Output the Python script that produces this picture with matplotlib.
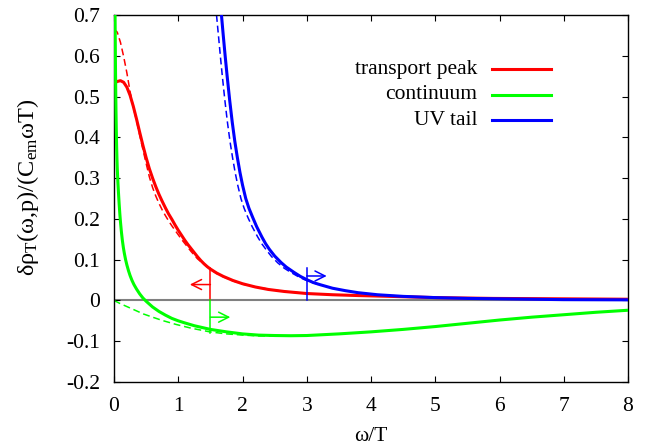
import numpy as np
import matplotlib
matplotlib.use("Agg")
import matplotlib.pyplot as plt

plt.rcParams['font.family'] = ['Liberation Serif', 'DejaVu Serif']
plt.rcParams['mathtext.fontset'] = 'custom'
plt.rcParams['mathtext.rm'] = 'Liberation Serif'
plt.rcParams['mathtext.it'] = 'Liberation Serif:italic'
plt.rcParams['axes.unicode_minus'] = False

# transport peak (solid = full, dashed = approximation)
tp_x = [0, 0.05, 0.1, 0.15, 0.2, 0.25, 0.3, 0.35, 0.4, 0.45, 0.5, 0.55, 0.6, 0.65, 0.7, 0.75,
        0.8, 0.85, 0.9, 0.95, 1.0, 1.05, 1.1, 1.15, 1.2, 1.25, 1.3, 1.35, 1.4, 1.45, 1.5, 1.6,
        1.7, 1.85, 2.0, 2.2, 2.4, 2.65, 3.0, 3.4, 3.8, 4.3, 5.0, 5.9, 7.0, 8.0]
tp_y = [0.533, 0.537, 0.539, 0.535, 0.523, 0.503, 0.476, 0.445, 0.412, 0.380, 0.350, 0.323,
        0.300, 0.279, 0.260, 0.243, 0.227, 0.212, 0.199, 0.185, 0.172, 0.160, 0.148, 0.137,
        0.127, 0.117, 0.107, 0.098, 0.090, 0.083, 0.077, 0.067, 0.059, 0.049, 0.041, 0.033,
        0.027, 0.022, 0.017, 0.014, 0.012, 0.010, 0.007, 0.005, 0.004, 0.003]
tp_dx = [0, 0.05, 0.1, 0.15, 0.2, 0.25, 0.3, 0.35, 0.4, 0.45, 0.5, 0.55, 0.6, 0.65, 0.7, 0.75,
         0.8, 0.85, 0.9, 0.95, 1.0, 1.05, 1.1, 1.15, 1.2, 1.25, 1.3, 1.4, 1.5, 1.6, 1.7, 1.85,
         2.0, 2.2, 2.6, 3.0]
tp_dy = [0.665, 0.658, 0.633, 0.598, 0.558, 0.512, 0.474, 0.441, 0.405, 0.370, 0.336, 0.303,
         0.277, 0.256, 0.238, 0.222, 0.208, 0.195, 0.183, 0.172, 0.161, 0.150, 0.140, 0.130,
         0.120, 0.111, 0.102, 0.089, 0.076, 0.066, 0.058, 0.048, 0.040, 0.033, 0.023, 0.017]

# continuum
co_x = [0.015, 0.018, 0.022, 0.026, 0.03, 0.035, 0.04, 0.045, 0.05, 0.06, 0.07, 0.08, 0.09,
        0.1, 0.115, 0.13, 0.145, 0.16, 0.18, 0.2, 0.225, 0.25, 0.28, 0.31, 0.35, 0.4, 0.45,
        0.5, 0.55, 0.6, 0.7, 0.8, 0.9, 1.0, 1.1, 1.25, 1.5, 1.75, 2.0, 2.25, 2.5, 2.75, 3.0,
        3.5, 4.0, 4.5, 5.0, 5.5, 6.0, 6.5, 7.0, 7.5, 8.0]
co_y = [0.72, 0.66, 0.58, 0.52, 0.47, 0.42, 0.38, 0.35, 0.325, 0.29, 0.262, 0.236, 0.213,
        0.193, 0.168, 0.147, 0.130, 0.116, 0.100, 0.087, 0.073, 0.061, 0.049, 0.039, 0.028,
        0.016, 0.006, -0.002, -0.009, -0.016, -0.027, -0.036, -0.044, -0.050, -0.055, -0.062,
        -0.071, -0.077, -0.082, -0.085, -0.086, -0.0865, -0.086, -0.082, -0.077, -0.071,
        -0.064, -0.056, -0.048, -0.041, -0.035, -0.029, -0.024]
co_dx = [0, 0.1, 0.2, 0.3, 0.455, 0.6, 0.75, 0.97, 1.2, 1.49, 1.75, 2.01, 2.25, 2.52, 2.8, 3.1]
co_dy = [0, -0.008, -0.015, -0.022, -0.033, -0.041, -0.049, -0.059, -0.068, -0.077, -0.082,
         -0.085, -0.087, -0.087, -0.087, -0.085]

# UV tail
uv_x = [1.672, 1.7, 1.73, 1.76, 1.8, 1.84, 1.88, 1.92, 1.96, 2.0, 2.05, 2.1, 2.16, 2.22, 2.3,
        2.36, 2.42, 2.5, 2.6, 2.68, 2.8, 2.9, 3.0, 3.1, 3.2, 3.4, 3.6, 3.8, 4.1, 4.5, 5.0,
        5.5, 6.0, 7.0, 8.0]
uv_y = [0.700, 0.650, 0.599, 0.551, 0.491, 0.437, 0.390, 0.350, 0.314, 0.283, 0.250, 0.226,
        0.203, 0.181, 0.156, 0.139, 0.125, 0.109, 0.093, 0.082, 0.069, 0.059, 0.051, 0.044,
        0.039, 0.030, 0.024, 0.019, 0.014, 0.010, 0.007, 0.005, 0.004, 0.002, 0.0015]
uv_dx = [1.595, 1.625, 1.655, 1.685, 1.725, 1.765, 1.805, 1.845, 1.885, 1.925, 1.975, 2.025,
         2.085, 2.15, 2.235, 2.3, 2.37, 2.45, 2.55, 2.65, 2.75, 2.85, 2.95, 3.05, 3.2]
uv_dy = [0.700, 0.650, 0.599, 0.551, 0.491, 0.437, 0.390, 0.350, 0.314, 0.283, 0.250, 0.226,
         0.203, 0.181, 0.156, 0.139, 0.124, 0.108, 0.092, 0.079, 0.069, 0.060, 0.052, 0.046,
         0.038]

labels = ["transport peak", "continuum", "UV tail"]
colors = ["#ff0000", "#00ff00", "#0000ff"]

# arrows: x position, end of vertical bar, arrow height, arrow tip x
arrow_x = [1.5, 1.5, 3.0]
arrow_bar = [0.079, -0.079, 0.079]
arrow_y = [0.039, -0.041, 0.060]
arrow_tip = [1.18, 1.81, 3.31]

xticks = [0, 1, 2, 3, 4, 5, 6, 7, 8]
yticks = [-0.2, -0.1, 0, 0.1, 0.2, 0.3, 0.4, 0.5, 0.6, 0.7]
ytick_labels = ["-0.2", "-0.1", "0", "0.1", "0.2", "0.3", "0.4", "0.5", "0.6", "0.7"]

fig = plt.figure(figsize=(6.49, 4.47), dpi=100)
ax = fig.add_axes([0.1757, 0.1454, 0.7920, 0.8210])

ax.axhline(0, color="#808080", lw=1.5, zorder=1)

curves = [(tp_x, tp_y, tp_dx, tp_dy), (co_x, co_y, co_dx, co_dy), (uv_x, uv_y, uv_dx, uv_dy)]
for (sx, sy, dx, dy), c in zip(curves, colors):
    ax.plot(dx, dy, color=c, lw=1.1, dashes=(4.5, 2.5), zorder=2)
    ax.plot(sx, sy, color=c, lw=2.2, zorder=3, solid_capstyle="butt")

for xa, yb, ya, xt, c in zip(arrow_x, arrow_bar, arrow_y, arrow_tip, colors):
    ax.plot([xa, xa], [0, yb], color=c, lw=1.1, zorder=4)
    ax.annotate("", xy=(xt, ya), xytext=(xa, ya),
                arrowprops=dict(arrowstyle="->,head_length=0.6,head_width=0.3",
                                color=c, lw=1.1, shrinkA=0, shrinkB=0, mutation_scale=12),
                zorder=4)

# legend drawn by hand (text right-aligned, sample line on the right)
for i, (lab, c) in enumerate(zip(labels, colors)):
    yy = 0.852 - i * 0.0695
    ax.text(0.707, yy, lab, transform=ax.transAxes, ha="right", va="center", fontsize=15.5)
    ax.plot([0.736, 0.850], [yy, yy], transform=ax.transAxes, color=c, lw=2.2)

ax.set_xlim(0, 8)
ax.set_ylim(-0.2, 0.7)
ax.set_xticks(xticks)
ax.set_yticks(yticks)
ax.set_yticklabels(ytick_labels)
ax.tick_params(direction="in", length=4.5, width=0.8, top=True, right=True, labelsize=15.5)
ax.tick_params(axis="y", pad=10)
ax.tick_params(axis="x", pad=11)
for s in ax.spines.values():
    s.set_linewidth(1.0)

ax.set_xlabel("ω/T", fontsize=15.5, labelpad=8)
ax.set_ylabel(r"δρ$_{\rm T}$(ω,p)/(C$_{\rm em}$ωT)", fontsize=17.5)
ax.yaxis.set_label_coords(-0.143, 0.53)

fig.savefig("out.png", dpi=100)
